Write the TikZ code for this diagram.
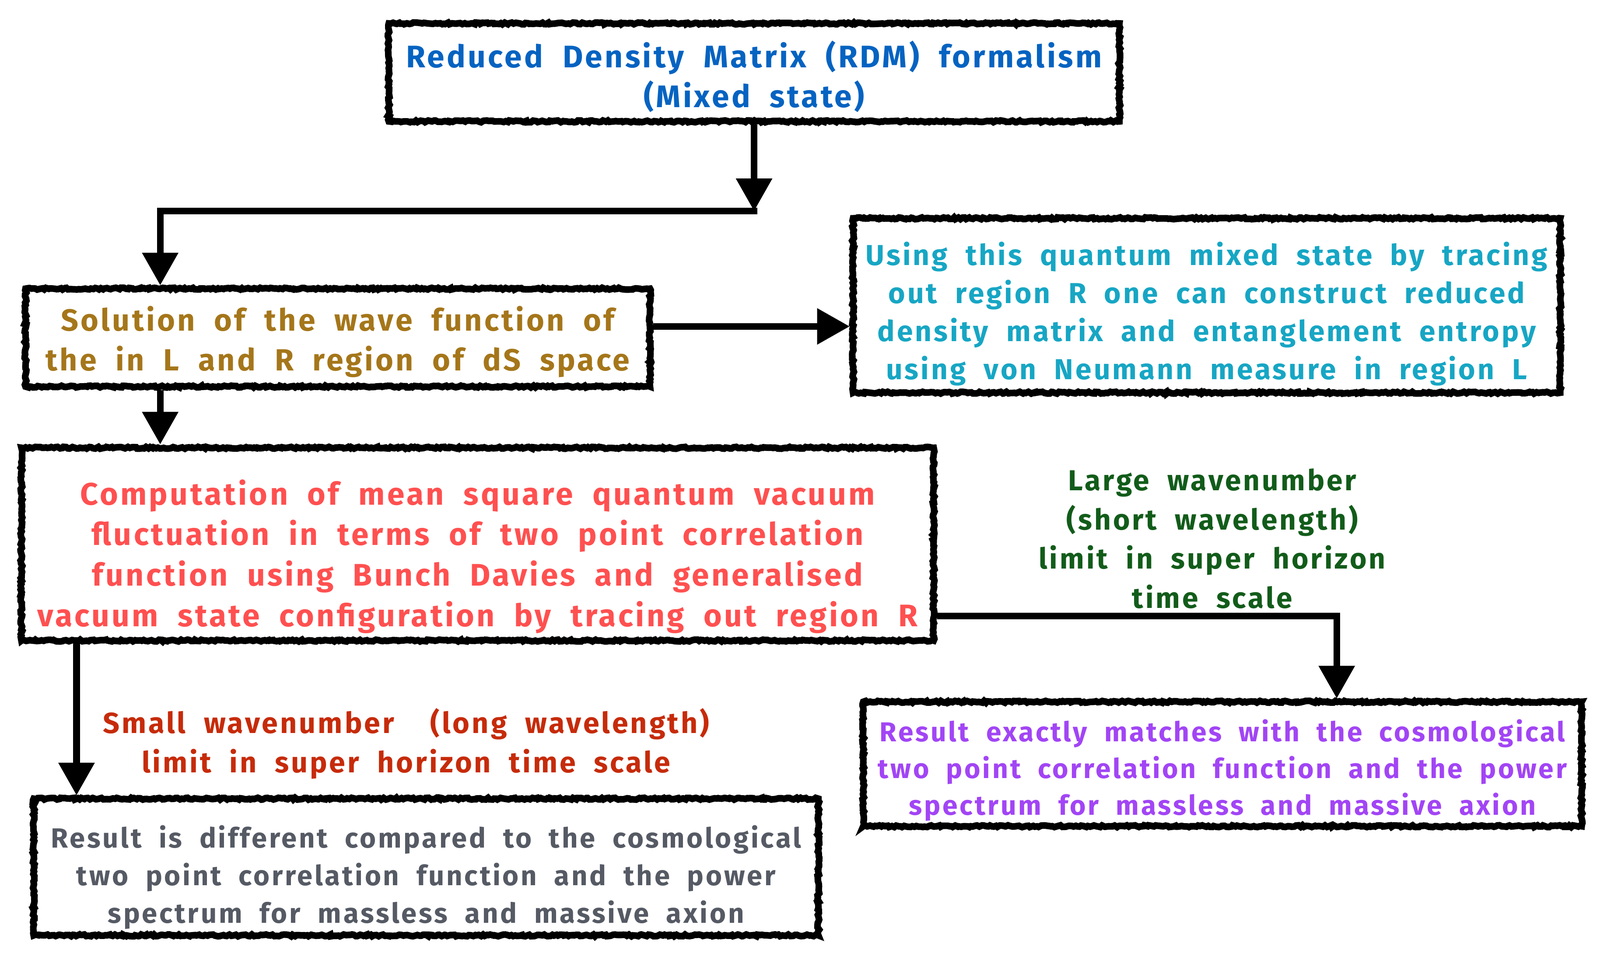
\documentclass[tikz,border=0pt]{standalone}
\usepackage{fontspec}
\setmainfont{Fira Sans}[LetterSpace=7.5, WordSpace=2.0]
\usetikzlibrary{arrows.meta,calc,decorations.pathmorphing}
\definecolor{cblue}{HTML}{0563C1}
\definecolor{cbrown}{HTML}{A5761A}
\definecolor{ccyan}{HTML}{17A6C4}
\definecolor{cred}{HTML}{FF5050}
\definecolor{cgreen}{HTML}{125C1A}
\definecolor{cpurple}{HTML}{A245F5}
\definecolor{cgray}{HTML}{555A64}
\definecolor{cdred}{HTML}{C62B0A}
\tikzset{
  box/.style={draw=black, line width=6.5pt, fill=white, inner sep=0pt,
    decorate, decoration={random steps, segment length=2pt, amplitude=0.9pt}},
  txt/.style={align=center, inner sep=0pt},
  conn/.style={line width=6.5pt, draw=black},
  arr/.style={conn, -{Triangle[width=34pt,length=32pt]}},
  lbl/.style={align=center, font=\bfseries\fontsize{28.3}{38.5}\selectfont}
}
\begin{document}
\begin{tikzpicture}[x=1pt,y=-1pt]
\useasboundingbox (0,0) rectangle (1568,941);
% boxes
\node[box, minimum width=716pt, minimum height=96pt] (b1) at (739,71) {};
\node[box, minimum width=612pt, minimum height=96pt] (b2) at (331,331) {};
\node[box, minimum width=693pt, minimum height=171pt] (b3) at (1182.5,299.5) {};
\node[box, minimum width=894pt, minimum height=189pt] (b4) at (468,533.5) {};
\node[box, minimum width=769pt, minimum height=134pt] (b5) at (417.5,850) {};
\node[box, minimum width=704pt, minimum height=122pt] (b6) at (1198,749) {};
% texts
\node[txt, text=cblue, font=\bfseries\fontsize{30.6}{39}\selectfont] (t1) at ($(b1)+(0,4)$)
  {Reduced Density Matrix (RDM) formalism\\(Mixed state)};
\node[txt, text=cbrown, font=\bfseries\fontsize{30}{39}\selectfont] (t2) at ($(b2)+(0,4)$)
  {Solution of the wave function of\\the in L and R region of dS space};
\node[txt, text=ccyan, font=\bfseries\fontsize{28.3}{37.3}\selectfont] (t3) at ($(b3)+(0,8)$)
  {Using this quantum mixed state by tracing\\out region R one can construct reduced\\density matrix and entanglement entropy\\using von Neumann measure in region L};
\node[txt, text=cred, font=\bfseries\fontsize{30.6}{39.7}\selectfont] (t4) at ($(b4)+(0,12)$)
  {Computation of mean square quantum vacuum\\fluctuation in terms of two point correlation\\function using Bunch Davies and generalised\\vacuum state configuration by tracing out region R};
\node[txt, text=cgray, font=\bfseries\fontsize{27.2}{37}\selectfont] (t5) at ($(b5)+(0,10)$)
  {Result is different compared to the cosmological\\two point correlation function and the power\\spectrum for massless and massive axion};
\node[txt, text=cpurple, font=\bfseries\fontsize{26.8}{36}\selectfont] (t6) at ($(b6)+(0,6)$)
  {Result exactly matches with the cosmological\\two point correlation function and the power\\spectrum for massless and massive axion};
\node[lbl, text=cgreen] (lg) at (1188,528)
  {Large wavenumber\\(short wavelength)\\limit in super horizon\\time scale};
\node[lbl, text=cdred, font=\bfseries\fontsize{28.5}{38.5}\selectfont] (lr) at (398,729)
  {Small wavenumber\ \ (long wavelength)\\limit in super horizon time scale};
% connectors
\coordinate (j1) at (739,207);
\coordinate (x1) at (157,0);
\coordinate (x2) at (75,0);
\coordinate (x3) at (1310,0);
\draw[arr] (b1.south) -- (j1);
\draw[conn] ($(j1)+(3.25,0)$) -- (j1 -| x1) ;
\draw[arr] ($(j1 -| x1)+(0,-3.25)$) -- (x1 |- b2.north);
\draw[arr] ($(b2.east)+(0,-11)$) coordinate (p1) -- (p1 -| b3.west);
\draw[arr] (x1 |- b2.south) -- (x1 |- b4.north);
\draw[arr] (x2 |- b4.south) -- (x2 |- b5.north);
\draw[conn] ($(b4.east)+(0,70.5)$) coordinate (p2) -- (p2 -| x3) coordinate (p3);
\draw[arr] ($(p3)+(0,-3.25)$) -- (x3 |- b6.north);
\end{tikzpicture}
\end{document}
